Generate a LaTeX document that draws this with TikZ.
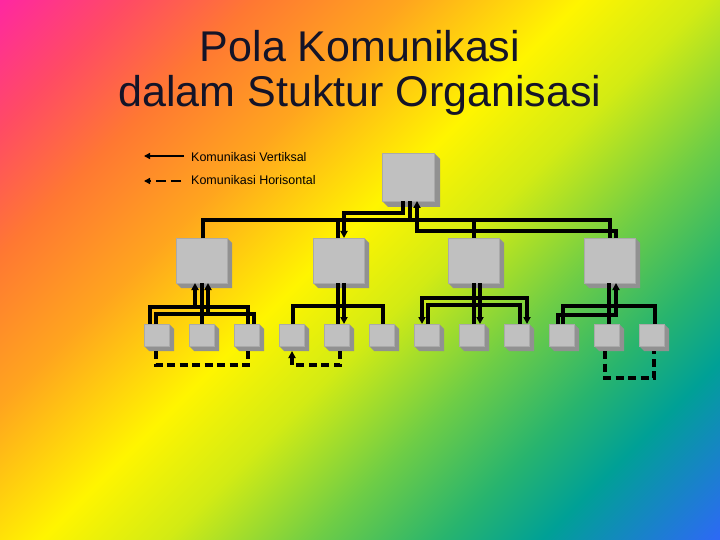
\documentclass[tikz,border=0pt]{standalone}
\usepackage{fontspec}
\setmainfont{Liberation Sans}
\usetikzlibrary{arrows.meta}
\definecolor{c0}{RGB}{255,40,160}
\definecolor{c1}{RGB}{255,75,100}
\definecolor{c2}{RGB}{255,120,50}
\definecolor{c3}{RGB}{255,165,30}
\definecolor{c4}{RGB}{255,245,0}
\definecolor{c5}{RGB}{210,235,20}
\definecolor{c6}{RGB}{110,205,70}
\definecolor{c7}{RGB}{40,180,110}
\definecolor{c8}{RGB}{0,160,150}
\definecolor{c9}{RGB}{45,105,245}
\definecolor{facegray}{RGB}{192,192,192}
\definecolor{edgegray}{RGB}{170,170,170}
\definecolor{shadegray}{RGB}{145,145,145}
\definecolor{titlecol}{RGB}{20,20,40}
\pgfdeclarehorizontalshading{rainbow}{100bp}{color(0bp)=(c0); color(14.6bp)=(c0); color(21.7bp)=(c1); color(28.8bp)=(c2); color(37.3bp)=(c3); color(47.2bp)=(c4); color(54.3bp)=(c5); color(62.7bp)=(c6); color(69.8bp)=(c7); color(75.5bp)=(c8); color(85.4bp)=(c9); color(100bp)=(c9)}
\newcommand\orgbox[6]{%
  \fill[shadegray] (#2,#3+#5) -- (#2+#6,#3+#5+#6) -- (#2+#4+#6,#3+#5+#6) -- (#2+#4+#6,#3+#6) -- (#2+#4,#3) -- cycle;
  \node[boxface, minimum width=#4pt, minimum height=#5pt, anchor=north west] (#1) at (#2,#3) {};
}
\tikzset{
  boxface/.style={fill=facegray, draw=edgegray, line width=0.6pt, inner sep=0pt, outer sep=0pt},
  conn/.style={line width=3.2pt, black, line join=miter},
  dconn/.style={conn, dash pattern=on 8pt off 4.5pt},
  legline/.style={line width=2pt, black},
  >={Triangle[width=7pt,length=7pt]},
  titletext/.style={font=\fontsize{43}{45}\selectfont, text=titlecol, anchor=base, inner sep=0pt},
  legtext/.style={font=\fontsize{12.5}{14}\selectfont, text=black, anchor=base west, inner sep=0pt}
}
\begin{document}
\begin{tikzpicture}[x=1pt,y=-1pt]
\useasboundingbox (0,0) rectangle (720,540);
\shade[shading=rainbow, shading angle=-45] (0,0) rectangle (720,540);
% title
\node[titletext] (t1) at (360,62) {Pola Komunikasi};
\node[titletext] (t2) at (360,107) {dalam Stuktur Organisasi};
% legend
\coordinate (la1) at (184,156);
\coordinate (la2) at (144,156);
\coordinate (lb1) at (181,181);
\coordinate (lb2) at (144,181);
\draw[legline,-{Triangle[width=6pt,length=6pt]}] (la1) -- (la2);
\draw[legline,dash pattern=on 10pt off 5pt,-{Triangle[width=6pt,length=6pt]}] (lb1) -- (lb2);
\node[legtext] (l1) at (191,161.5) {Komunikasi Vertiksal};
\node[legtext] (l2) at (191,185) {Komunikasi Horisontal};
% boxes
\orgbox{T}{382}{153}{52}{48}{6}
\orgbox{M1}{176}{238}{51}{45}{5}
\orgbox{M2}{313}{238}{51}{45}{5}
\orgbox{M3}{448}{238}{51}{45}{5}
\orgbox{M4}{584}{238}{51}{45}{5}
\orgbox{S1}{144}{324}{25}{22}{5}
\orgbox{S2}{189}{324}{25}{22}{5}
\orgbox{S3}{234}{324}{25}{22}{5}
\orgbox{S4}{279}{324}{25}{22}{5}
\orgbox{S5}{324}{324}{25}{22}{5}
\orgbox{S6}{369}{324}{25}{22}{5}
\orgbox{S7}{414}{324}{25}{22}{5}
\orgbox{S8}{459}{324}{25}{22}{5}
\orgbox{S9}{504}{324}{25}{22}{5}
\orgbox{S10}{549}{324}{25}{22}{5}
\orgbox{S11}{594}{324}{25}{22}{5}
\orgbox{S12}{639}{324}{25}{22}{5}
% top level
\draw[conn] (410,0 |- T.south) -- (410,220);
\draw[conn] (203,0 |- M1.north) -- (203,220) -- (610,220) -- (610,0 |- M4.north);
\draw[conn] (338,220) -- (338,0 |- M2.north);
\draw[conn] (474,220) -- (474,0 |- M3.north);
\draw[conn,->] (403,0 |- T.south) -- (403,213) -- (344,213) -- (344,0 |- M2.north);
\draw[conn,->] (616,0 |- M4.north) -- (616,231) -- (417,231) -- (417,0 |- T.south);
% group 1
\draw[conn] (202,0 |- M1.south) -- (202,0 |- S2.north);
\draw[conn] (150,0 |- S1.north) -- (150,307) -- (248,307) -- (248,0 |- S3.north);
\draw[conn] (156,0 |- S1.north) -- (156,314) -- (254,314) -- (254,0 |- S3.north);
\draw[conn,->] (195,307) -- (195,0 |- M1.south);
\draw[conn,->] (208,314) -- (208,0 |- M1.south);
% group 2
\draw[conn] (338,0 |- M2.south) -- (338,0 |- S5.north);
\draw[conn] (293,0 |- S4.north) -- (293,306) -- (383,306) -- (383,0 |- S6.north);
\draw[conn,->] (344,0 |- M2.south) -- (344,0 |- S5.north);
% group 3
\draw[conn] (474,0 |- M3.south) -- (474,0 |- S8.north);
\draw[conn,->] (480,0 |- M3.south) -- (480,0 |- S8.north);
\draw[conn] (428,0 |- S7.north) -- (428,305) -- (520,305) -- (520,0 |- S9.north);
\draw[conn,->] (474,298) -- (422,298) -- (422,0 |- S7.north);
\draw[conn,->] (474,298) -- (527,298) -- (527,0 |- S9.north);
% group 4
\draw[conn] (609,0 |- M4.south) -- (609,0 |- S11.north);
\draw[conn] (563,0 |- S10.north) -- (563,306) -- (655,306) -- (655,0 |- S12.north);
\draw[conn,->] (558,0 |- S10.north) -- (558,315) -- (616,315) -- (616,0 |- M4.south);
% horizontal communication (dashed)
\draw[dconn] (156,351) -- (156,365) -- (248,365) -- (248,351);
\draw[dconn,->] (340,351) -- (340,365) -- (292,365) -- (292,351);
\draw[dconn] (605,351) -- (605,378) -- (654,378) -- (654,351);
\end{tikzpicture}
\end{document}
